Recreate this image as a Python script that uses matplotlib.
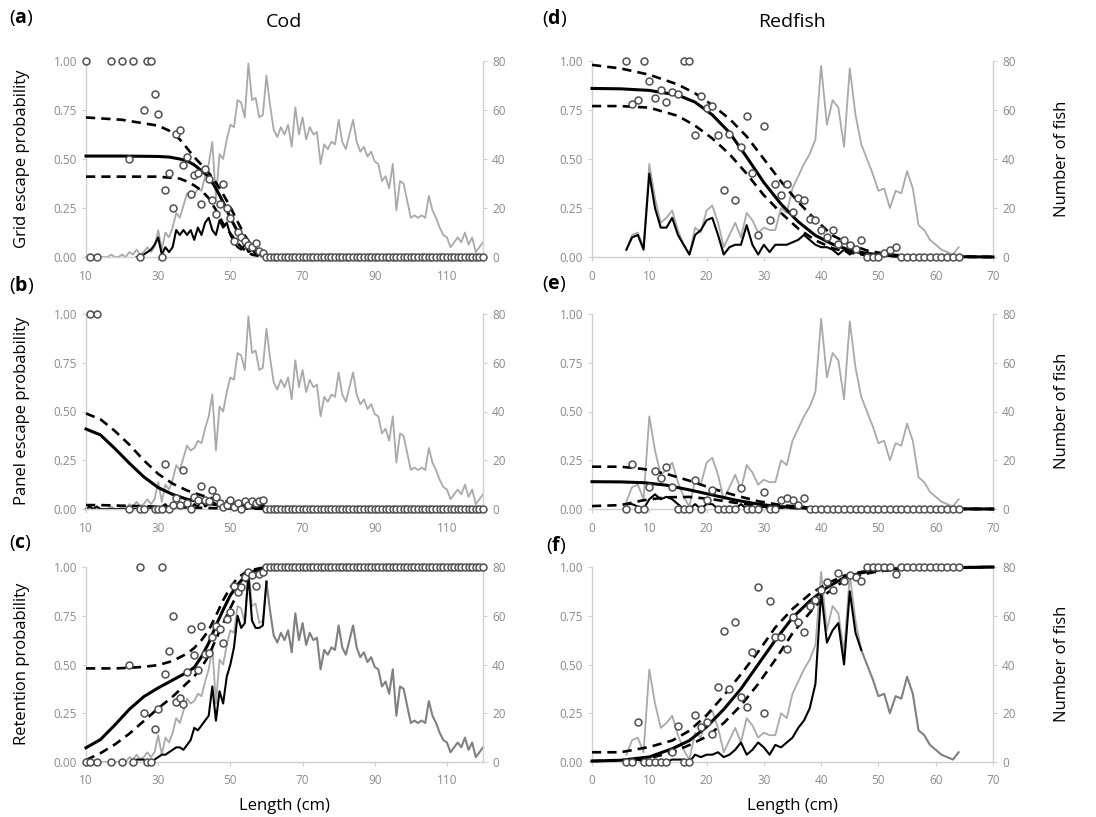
import numpy as np
import matplotlib
matplotlib.use('Agg')
import matplotlib.pyplot as plt

plt.rcParams['font.family'] = ['Open Sans', 'DejaVu Sans']
plt.rcParams['mathtext.fontset'] = 'custom'
plt.rcParams['mathtext.rm'] = 'Open Sans'
plt.rcParams['mathtext.bf'] = 'Open Sans:bold'

nan = np.nan

# ---------------- Cod ----------------
cod_len = np.arange(10, 121)          # length classes (cm)
cod_len_n = np.arange(10, 61)         # classes where escape / retention counts differ from zero

# total number of fish per length class (right axis)
cod_total = np.array([
    0, 0, 0, 0, 0, 0, 0, 1, 0, 0,
    1, 0, 2, 1, 3, 1, 2, 4, 2, 4,
    11, 3, 10, 8, 12, 18, 16, 21, 26, 24,
    25, 28, 27, 33, 38, 47, 24, 42, 40, 48,
    54, 53, 64, 63, 57, 79, 64, 65, 57, 58,
    74, 62, 52, 49, 53, 50, 54, 45, 61, 50,
    57, 48, 53, 50, 51, 38, 46, 44, 47, 46,
    56, 47, 44, 50, 56, 47, 43, 45, 41, 43,
    39, 38, 31, 33, 28, 38, 19, 31, 30, 23,
    16, 17, 16, 17, 16, 25, 19, 16, 12, 9,
    8, 4, 6, 8, 6, 10, 5, 8, 2, 4, 6])

cod_grid_n = [
    nan, nan, nan, nan, nan, nan, nan, nan, nan, nan,
    nan, nan, nan, nan, 0, 0, 1, 2, 3, 5,
    8, 1, 4, 2, 4, 11, 9, 11, 9, 11,
    7, 12, 9, 14, 16, 11, 9, 15, 12, 14,
    9, 6, 4, 3, 5, 2, 3, 1, 1, 0,
    0]

cod_panel_n = [
    0, 1, 0, 1, 0, 0, 0, 0, 0, 0,
    0, 0, 0, 0, 0, 0, 0, 0, 0, 0,
    0, 1, 2, 0, 1, 1, 0, 2, 3, 0,
    2, 1, 4, 1, 2, 3, 2, 1, 1, 1,
    2, 1, 1, 0, 2, 1, 2, 1, 1, 2,
    0]

cod_ret_n = [
    nan, nan, nan, nan, nan, nan, nan, nan, nan, nan,
    nan, nan, nan, 0, 1, 1, 1, 0, 0, 1,
    2, 3, 3, 4, 5, 6, 6, 5, 7, 9,
    14, 13, 15, 17, 19, 31, 17, 29, 24, 35,
    40, 47, 60, 55, 57, 77, 58, 55, 55, 56,
    74]

# observed proportions, lengths 10..120
cod_grid_obs = [
    1.0, 0, nan, 0, nan, nan, nan, 1.0, nan, nan,
    1.0, nan, 0.5, 1.0, nan, 0, 0.75, 1.0, 1.0, 0.83,
    0.73, 0, 0.34, 0.43, 0.25, 0.63, 0.65, 0.47, 0.51, 0.32,
    0.42, 0.43, 0.27, 0.45, 0.40, 0.29, 0.22, 0.27, 0.37, 0.25,
    0.20, 0.08, 0.13, 0.10, 0.08, 0.06, 0.05, 0.07, 0.03, 0.02] + [0.0] * 61

cod_panel_obs = [
    nan, 1.0, nan, 1.0, nan, nan, nan, nan, nan, nan,
    nan, nan, 0, nan, nan, 0, 0, nan, nan, 0,
    0, 0, 0.23, 0, 0.02, 0.055, 0.02, 0.20, 0.03, 0,
    0.06, 0.045, 0.12, 0.045, 0.04, 0.10, 0.06, 0.03, 0.01, 0.02,
    0.045, 0.01, 0.03, 0.0, 0.04, 0.02, 0.04, 0.03, 0.04, 0.045] + [0.0] * 61

cod_ret_obs = [
    0, 0, nan, 0, nan, nan, nan, 0, nan, nan,
    0, nan, 0.5, 0, nan, 1.0, 0.25, 0, 0, 0.17,
    0.27, 1.0, 0.45, 0.57, 0.75, 0.31, 0.33, 0.30, 0.46, 0.68,
    0.55, 0.47, 0.70, 0.555, 0.56, 0.64, 0.70, 0.68, 0.61, 0.735,
    0.77, 0.905, 0.87, 0.90, 0.95, 0.975, 0.96, 0.905, 0.965, 0.975] + [1.0] * 61

# fitted curves (read at selected lengths)
cod_grid_fit_len = [10, 20, 30, 33, 36, 38, 40, 42, 44, 46, 48, 50, 52, 54, 56, 58, 60, 62, 120]
cod_grid_fit = [0.515, 0.515, 0.513, 0.51, 0.50, 0.49, 0.47, 0.44, 0.41, 0.35, 0.28, 0.20,
                0.13, 0.075, 0.04, 0.02, 0.008, 0.003, 0.0]
cod_grid_hi = [0.712, 0.70, 0.67, 0.645, 0.60, 0.555, 0.51, 0.47, 0.43, 0.38, 0.32, 0.255,
               0.18, 0.11, 0.055, 0.02, 0.008, 0.003, 0.0]
cod_grid_lo = [0.41, 0.41, 0.41, 0.405, 0.40, 0.385, 0.365, 0.34, 0.30, 0.24, 0.17, 0.12,
               0.07, 0.035, 0.012, 0.005, 0.002, 0.0, 0.0]

cod_panel_fit_len = [10, 14, 18, 22, 26, 30, 34, 38, 42, 46, 50, 55, 60, 120]
cod_panel_fit = [0.41, 0.38, 0.31, 0.235, 0.165, 0.11, 0.075, 0.05, 0.035, 0.022, 0.013, 0.007, 0.004, 0.0]
cod_panel_hi = [0.49, 0.46, 0.40, 0.33, 0.25, 0.18, 0.13, 0.095, 0.07, 0.05, 0.035, 0.02, 0.01, 0.0]
cod_panel_lo = [0.02, 0.02, 0.018, 0.016, 0.014, 0.012, 0.01, 0.008, 0.006, 0.004, 0.003, 0.002, 0.001, 0.0]

cod_ret_fit_len = [10, 14, 18, 22, 26, 30, 34, 38, 40, 42, 44, 46, 48, 50, 52, 54, 56, 58, 60, 120]
cod_ret_fit = [0.073, 0.115, 0.19, 0.27, 0.335, 0.38, 0.42, 0.46, 0.485, 0.54, 0.61, 0.70,
               0.78, 0.855, 0.91, 0.95, 0.975, 0.99, 0.997, 1.0]
cod_ret_hi = [0.48, 0.48, 0.48, 0.483, 0.488, 0.497, 0.518, 0.556, 0.585, 0.625, 0.675, 0.75,
              0.83, 0.895, 0.945, 0.97, 0.985, 0.993, 0.998, 1.0]
cod_ret_lo = [0.01, 0.045, 0.09, 0.145, 0.21, 0.275, 0.335, 0.405, 0.44, 0.485, 0.545, 0.63,
              0.71, 0.79, 0.865, 0.925, 0.96, 0.98, 0.99, 1.0]

# ---------------- Redfish ----------------
red_len = np.arange(6, 65)

red_total = np.array([
    3, 9, 10, 4,
    38, 24, 14, 16, 19, 11, 5, 1, 12, 10,
    19, 21, 14, 4, 9, 14, 8, 18, 15, 10,
    12, 11, 11, 20, 18, 28, 33, 38, 42, 48,
    78, 54, 64, 61, 45, 77, 58, 46, 40, 34,
    27, 28, 20, 27, 26, 35, 28, 13, 11, 7,
    5, 3, 2, 1, 4])

red_grid_len = np.arange(6, 53)
red_grid_n = [
    3, 8, 9, 3,
    34, 20, 12, 12, 16, 9, 5, 1, 9, 11,
    15, 16, 9, 1, 4, 5, 5, 13, 5, 1,
    5, 2, 5, 5, 5, 6, 7, 9, 7, 5,
    4, 4, 3, 1, 3, 1, 3, 1, 1, 1,
    0, 1, 0]

red_panel_len = np.arange(6, 39)
red_panel_n = [
    2, 2, 1, 0,
    4, 6, 4, 5, 4, 2, 0, 0, 2, 0,
    2, 2, 0, 0, 1, 0, 2, 0, 0, 0,
    1, 0, 0, 1, 1, 1, 0, 1, 0]

red_ret_len = np.arange(6, 48)
red_ret_n = [
    0, 0, 1, 0,
    0, 0, 1, 0, 1, 1, 1, 0, 3, 2,
    3, 3, 4, 2, 3, 5, 8, 3, 5, 8,
    6, 3, 7, 6, 8, 10, 14, 17, 22, 32,
    70, 49, 54, 57, 40, 70, 53, 46]

red_grid_obs = [
    1.0, 0.78, 0.80, 1.0,
    0.90, 0.81, 0.85, 0.79, 0.84, 0.83, 1.0, 1.0, 0.62, 0.82,
    0.76, 0.77, 0.62, 0.34, 0.63, 0.29, 0.56, 0.72, 0.43, 0.11,
    0.67, 0.19, 0.375, 0.315, 0.375, 0.23, 0.30, 0.29, 0.196, 0.187,
    0.136, 0.10, 0.136, 0.068, 0.085, 0.06, 0.04, 0.085, 0, 0,
    0, 0.02, 0.034, 0.05, 0, 0, 0, 0, 0, 0,
    0, 0, 0, 0, 0]

red_panel_obs = [
    0, 0.23, 0, 0,
    0.115, 0.197, 0.157, 0.217, 0.115, 0, 0, 0, 0.15, 0,
    0.046, 0.10, 0, 0, 0, 0, 0.11, 0, 0, 0,
    0.089, 0, 0, 0.046, 0.055, 0.046, 0.02, 0.055, 0, 0] + [0.0] * 25

red_ret_obs = [
    0, 0, 0.205, 0,
    0, 0, 0, 0, 0.05, 0.183, 0, 0, 0.24, 0.18,
    0.205, 0.145, 0.385, 0.67, 0.376, 0.72, 0.333, 0.28, 0.564, 0.90,
    0.25, 0.826, 0.64, 0.64, 0.58, 0.744, 0.72, 0.667, 0.80, 0.83,
    0.88, 0.923, 0.88, 0.97, 0.93, 0.957, 0.95, 0.926, 1, 1,
    1, 1, 1, 0.966, 1, 1, 1, 1, 1, 1,
    1, 1, 1, 1, 1]

red_grid_fit_len = [0, 5, 10, 15, 18, 21, 24, 27, 30, 33, 36, 39, 42, 45, 48, 52, 56, 70]
red_grid_fit = [0.86, 0.858, 0.85, 0.826, 0.79, 0.725, 0.635, 0.51, 0.38, 0.27, 0.18, 0.11,
                0.065, 0.035, 0.018, 0.008, 0.004, 0.0]
red_grid_hi = [0.98, 0.962, 0.93, 0.88, 0.835, 0.775, 0.705, 0.615, 0.50, 0.385, 0.28, 0.19,
               0.11, 0.065, 0.033, 0.012, 0.005, 0.0]
red_grid_lo = [0.77, 0.77, 0.762, 0.72, 0.67, 0.605, 0.525, 0.425, 0.315, 0.225, 0.145, 0.085,
               0.045, 0.022, 0.01, 0.004, 0.001, 0.0]

red_panel_fit_len = [0, 5, 9, 13, 17, 21, 25, 29, 33, 37, 41, 70]
red_panel_fit = [0.14, 0.139, 0.135, 0.122, 0.098, 0.072, 0.046, 0.025, 0.011, 0.005, 0.002, 0.0]
red_panel_hi = [0.217, 0.217, 0.205, 0.18, 0.145, 0.105, 0.07, 0.04, 0.02, 0.009, 0.004, 0.0]
red_panel_lo = [0.015, 0.02, 0.045, 0.06, 0.062, 0.05, 0.032, 0.016, 0.007, 0.003, 0.001, 0.0]

red_ret_fit_len = [0, 5, 10, 14, 17, 20, 23, 26, 29, 32, 35, 38, 41, 44, 47, 50, 55, 70]
red_ret_fit = [0.005, 0.009, 0.026, 0.068, 0.11, 0.18, 0.27, 0.375, 0.50, 0.625, 0.74, 0.825,
               0.895, 0.945, 0.97, 0.985, 0.993, 1.0]
red_ret_hi = [0.05, 0.05, 0.077, 0.11, 0.16, 0.24, 0.34, 0.45, 0.565, 0.69, 0.785, 0.86,
              0.915, 0.955, 0.975, 0.987, 0.995, 1.0]
red_ret_lo = [0.005, 0.008, 0.02, 0.05, 0.087, 0.13, 0.20, 0.29, 0.40, 0.525, 0.66, 0.765,
              0.865, 0.93, 0.96, 0.978, 0.99, 1.0]

# ---------------- drawing ----------------
LIGHT = '#a9a9a9'
DARK = '#808080'
SPINE = '#d0d0d0'
TICKLAB = '#8a8a8a'

W, H = 1096, 817
fig = plt.figure(figsize=(W / 100, H / 100), dpi=100)


def make_axes(x0, x1, ytop, ybot, xlim, xticks):
    ax = fig.add_axes([x0 / W, 1 - ybot / H, (x1 - x0) / W, (ybot - ytop) / H])
    ax2 = ax.twinx()
    ax.set_zorder(2)
    ax2.set_zorder(1)
    ax.patch.set_visible(False)
    ax.set_xlim(*xlim)
    ax.set_ylim(0, 1)
    ax2.set_ylim(0, 80)
    ax.set_xticks(xticks)
    ax.set_yticks([0, 0.25, 0.5, 0.75, 1.0])
    ax.set_yticklabels(['0.00', '0.25', '0.50', '0.75', '1.00'])
    ax2.set_yticks([0, 20, 40, 60, 80])
    for a in (ax, ax2):
        a.spines['top'].set_visible(False)
        a.tick_params(colors=SPINE, labelcolor=TICKLAB, labelsize=8.5, length=3, width=0.8)
        for s in a.spines.values():
            s.set_color(SPINE)
            s.set_linewidth(1.0)
    ax.spines['right'].set_visible(False)
    ax2.spines['left'].set_visible(False)
    ax2.spines['bottom'].set_visible(False)
    ax.tick_params(axis='x', pad=6)
    return ax, ax2


def draw_fit(ax, L, fit, hi, lo):
    ax.plot(L, fit, color='black', lw=2.2, zorder=3, clip_on=False)
    for c in (hi, lo):
        ax.plot(L, c, color='black', lw=1.9, ls='--', dashes=(3.5, 2.3), zorder=3, clip_on=False)


def draw_obs(ax, L, obs):
    ax.plot(L, obs, 'o', ms=5, mfc='white', mec='#505050', mew=1.1, zorder=5, clip_on=False)


cod_x = (86, 483, (10, 120), [10, 30, 50, 70, 90, 110])
red_x = (592, 993, (0, 70), [0, 10, 20, 30, 40, 50, 60, 70])
rows = [(61, 257), (314, 509), (567, 762)]

# (a) cod grid
ax, ax2 = make_axes(cod_x[0], cod_x[1], rows[0][0], rows[0][1], cod_x[2], cod_x[3])
ax2.plot(cod_len, cod_total, color=LIGHT, lw=1.3, clip_on=False)
ax2.plot(cod_len_n, cod_grid_n, color='black', lw=1.5, clip_on=False)
draw_fit(ax, cod_grid_fit_len, cod_grid_fit, cod_grid_hi, cod_grid_lo)
draw_obs(ax, cod_len, cod_grid_obs)

# (b) cod panel
ax, ax2 = make_axes(cod_x[0], cod_x[1], rows[1][0], rows[1][1], cod_x[2], cod_x[3])
ax2.plot(cod_len, cod_total, color=LIGHT, lw=1.3, clip_on=False)
ax2.plot(cod_len_n, cod_panel_n, color='black', lw=1.5, clip_on=False)
draw_fit(ax, cod_panel_fit_len, cod_panel_fit, cod_panel_hi, cod_panel_lo)
draw_obs(ax, cod_len, cod_panel_obs)

# (c) cod retention
ax, ax2 = make_axes(cod_x[0], cod_x[1], rows[2][0], rows[2][1], cod_x[2], cod_x[3])
lo_part = cod_len <= 60
hi_part = cod_len >= 60
ax2.plot(cod_len[lo_part], cod_total[lo_part], color=LIGHT, lw=1.3, clip_on=False)
ax2.plot(cod_len[hi_part], cod_total[hi_part], color=DARK, lw=1.5, clip_on=False)
ax2.plot(cod_len_n, cod_ret_n, color='black', lw=1.5, clip_on=False)
draw_fit(ax, cod_ret_fit_len, cod_ret_fit, cod_ret_hi, cod_ret_lo)
draw_obs(ax, cod_len, cod_ret_obs)

# (d) redfish grid
ax, ax2 = make_axes(red_x[0], red_x[1], rows[0][0], rows[0][1], red_x[2], red_x[3])
ax2.plot(red_len, red_total, color=LIGHT, lw=1.3, clip_on=False)
ax2.plot(red_grid_len, red_grid_n, color='black', lw=1.5, clip_on=False)
draw_fit(ax, red_grid_fit_len, red_grid_fit, red_grid_hi, red_grid_lo)
draw_obs(ax, red_len, red_grid_obs)

# (e) redfish panel
ax, ax2 = make_axes(red_x[0], red_x[1], rows[1][0], rows[1][1], red_x[2], red_x[3])
ax2.plot(red_len, red_total, color=LIGHT, lw=1.3, clip_on=False)
ax2.plot(red_panel_len, red_panel_n, color='black', lw=1.5, clip_on=False)
draw_fit(ax, red_panel_fit_len, red_panel_fit, red_panel_hi, red_panel_lo)
draw_obs(ax, red_len, red_panel_obs)

# (f) redfish retention
ax, ax2 = make_axes(red_x[0], red_x[1], rows[2][0], rows[2][1], red_x[2], red_x[3])
lo_part = red_len <= 47
hi_part = red_len >= 47
ax2.plot(red_len[lo_part], red_total[lo_part], color=LIGHT, lw=1.3, clip_on=False)
ax2.plot(red_len[hi_part], red_total[hi_part], color=DARK, lw=1.5, clip_on=False)
ax2.plot(red_ret_len, red_ret_n, color='black', lw=1.5, clip_on=False)
draw_fit(ax, red_ret_fit_len, red_ret_fit, red_ret_hi, red_ret_lo)
draw_obs(ax, red_len, red_ret_obs)

# text
def ftext(x, y, s, **kw):
    fig.text(x / W, 1 - y / H, s, **kw)

ftext(284, 22, 'Cod', ha='center', va='center', fontsize=14)
ftext(792, 22, 'Redfish', ha='center', va='center', fontsize=14)

for lab, x, y in [('a', 9, 18), ('b', 9, 285), ('c', 9, 543),
                  ('d', 542, 18), ('e', 542, 284), ('f', 546, 545)]:
    ftext(x, y, r'($\mathbf{%s}$)' % lab, ha='left', va='center', fontsize=14)

for lab, y in [('Grid escape probability', 159), ('Panel escape probability', 411),
               ('Retention probability', 664)]:
    ftext(22, y, lab, rotation=90, ha='center', va='center', fontsize=12)
    ftext(1062, y, 'Number of fish', rotation=90, ha='center', va='center', fontsize=12)

ftext(284, 806, 'Length (cm)', ha='center', va='center', fontsize=12)
ftext(792, 806, 'Length (cm)', ha='center', va='center', fontsize=12)

fig.savefig('out.png', dpi=100)
